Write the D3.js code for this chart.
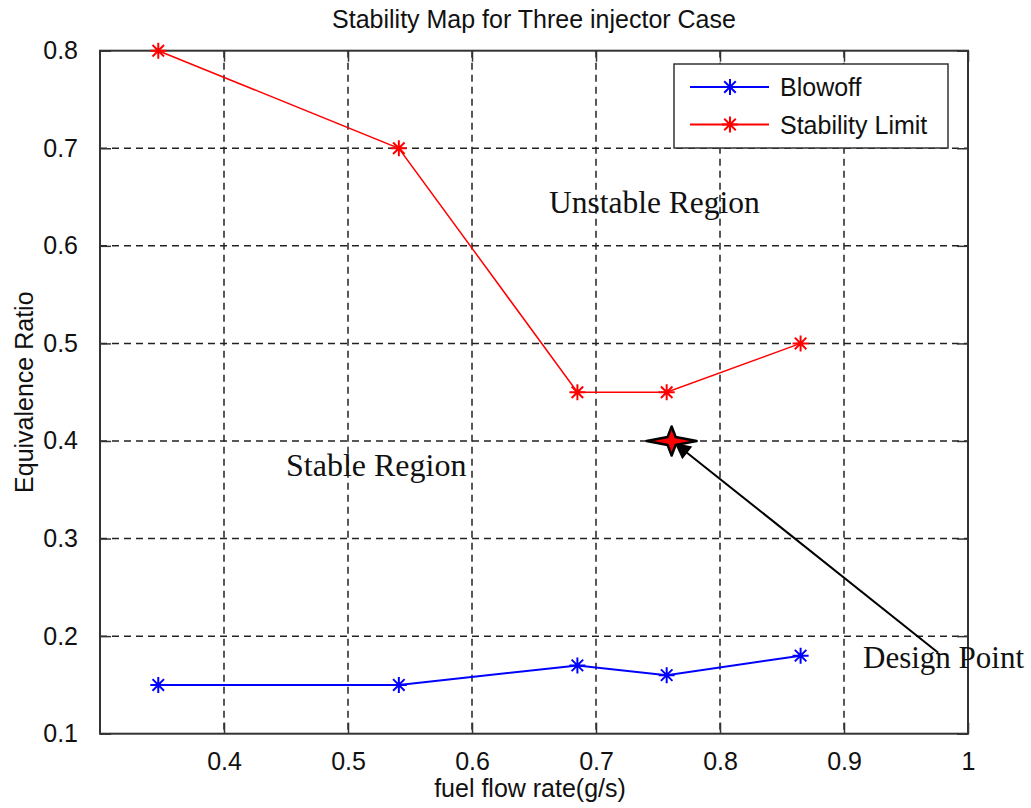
<!DOCTYPE html>
<html>
<head>
<meta charset="utf-8">
<script src="https://cdn.jsdelivr.net/npm/d3@7"></script>
<style>
  body { margin: 0; background: white; }
  svg text { font-family: "Liberation Sans", Arial, sans-serif; fill: #111; }
  .serif { font-family: "Liberation Serif", "Times New Roman", serif !important; }
</style>
</head>
<body>
<div id="chart"></div>
<script>
// fuel flow rate (g/s) for each test point
const flowRate = [0.347, 0.541, 0.685, 0.757, 0.865];
// equivalence ratio at blowoff
const blowoff = [0.15, 0.15, 0.17, 0.16, 0.18];
// equivalence ratio at stability limit
const stabilityLimit = [0.8, 0.7, 0.45, 0.45, 0.5];

const xTicks = [0.4, 0.5, 0.6, 0.7, 0.8, 0.9, 1];
const yTicks = [0.1, 0.2, 0.3, 0.4, 0.5, 0.6, 0.7, 0.8];

const designPoint = { x: 0.761, y: 0.4 };
const arrowFrom = { x: 0.976, y: 0.183 };
const arrowTo = { x: 0.7645, y: 0.397 };

const seriesList = [
    { name: 'Blowoff', values: blowoff, color: '#0000ff', width: 2 },
    { name: 'Stability Limit', values: stabilityLimit, color: '#ff0000', width: 1.5 }
];

const W = 1031, H = 808;
const margin = { top: 50.7, right: 63, bottom: 74.3, left: 100 };
const width = W - margin.left - margin.right;
const height = H - margin.top - margin.bottom;

const svg = d3.select('#chart')
    .append('svg')
    .attr('width', W)
    .attr('height', H);

const g = svg.append('g')
    .attr('transform', `translate(${margin.left},${margin.top})`);

const x = d3.scaleLinear().domain([0.3, 1]).range([0, width]);
const y = d3.scaleLinear().domain([0.1, 0.8]).range([height, 0]);

// grid
g.selectAll('.vgrid')
    .data(xTicks.filter(t => t < 1))
    .enter().append('line')
    .attr('x1', d => x(d)).attr('x2', d => x(d))
    .attr('y1', 0).attr('y2', height)
    .attr('stroke', '#222').attr('stroke-width', 1.5)
    .attr('stroke-dasharray', '7,5');

g.selectAll('.hgrid')
    .data(yTicks.filter(t => t > 0.1 && t < 0.8))
    .enter().append('line')
    .attr('y1', d => y(d)).attr('y2', d => y(d))
    .attr('x1', 0).attr('x2', width)
    .attr('stroke', '#222').attr('stroke-width', 1.5)
    .attr('stroke-dasharray', '7,5');

// axes (box with inward ticks)
const tickLen = 11;
const axisStyle = sel => {
    sel.select('.domain').remove();
    sel.selectAll('.tick line').attr('stroke', '#333').attr('stroke-width', 1.5);
    sel.selectAll('.tick text').style('font-size', '25px').attr('fill', '#111');
};

g.append('g')
    .attr('transform', `translate(0,${height})`)
    .call(d3.axisBottom(x).tickValues(xTicks).tickFormat(d3.format('')).tickSizeInner(-tickLen).tickPadding(19))
    .call(axisStyle);

g.append('g')
    .call(d3.axisTop(x).tickValues(xTicks).tickFormat('').tickSizeInner(-tickLen))
    .call(axisStyle);

g.append('g')
    .call(d3.axisLeft(y).tickValues(yTicks).tickFormat(d3.format('.1f')).tickSizeInner(-tickLen).tickPadding(22))
    .call(axisStyle);

g.append('g')
    .attr('transform', `translate(${width},0)`)
    .call(d3.axisRight(y).tickValues(yTicks).tickFormat('').tickSizeInner(-tickLen))
    .call(axisStyle);

g.append('rect')
    .attr('x', 0).attr('y', 0)
    .attr('width', width).attr('height', height)
    .attr('fill', 'none')
    .attr('stroke', '#333').attr('stroke-width', 2);

// asterisk marker path
const asterisk = r => {
    const d = r * 0.72;
    return `M${-r},0L${r},0M0,${-r}L0,${r}M${-d},${-d}L${d},${d}M${-d},${d}L${d},${-d}`;
};

const line = d3.line()
    .x(d => x(d[0]))
    .y(d => y(d[1]));

seriesList.forEach(s => {
    const pts = flowRate.map((f, i) => [f, s.values[i]]);
    g.append('path')
        .datum(pts)
        .attr('d', line)
        .attr('fill', 'none')
        .attr('stroke', s.color)
        .attr('stroke-width', s.width);
    g.selectAll(null)
        .data(pts)
        .enter().append('path')
        .attr('transform', d => `translate(${x(d[0])},${y(d[1])})`)
        .attr('d', asterisk(8))
        .attr('stroke', s.color)
        .attr('stroke-width', 2)
        .attr('fill', 'none');
});

// annotations
g.append('text')
    .attr('class', 'serif')
    .attr('x', 449).attr('y', 162)
    .style('font-size', '31.5px')
    .text('Unstable Region');

g.append('text')
    .attr('class', 'serif')
    .attr('x', 186).attr('y', 425)
    .style('font-size', '32px')
    .text('Stable Region');

svg.append('text')
    .attr('class', 'serif')
    .attr('x', 863).attr('y', 668)
    .style('font-size', '31px')
    .text('Design Point');

// arrow to the design point
svg.append('defs').append('marker')
    .attr('id', 'arrowhead')
    .attr('viewBox', '0 0 10 10')
    .attr('refX', 9).attr('refY', 5)
    .attr('markerWidth', 22).attr('markerHeight', 16)
    .attr('markerUnits', 'userSpaceOnUse')
    .attr('orient', 'auto')
    .append('path')
    .attr('d', 'M0,0L10,5L0,10Z')
    .attr('fill', '#000');

g.append('line')
    .attr('x1', x(arrowFrom.x)).attr('y1', y(arrowFrom.y))
    .attr('x2', x(arrowTo.x)).attr('y2', y(arrowTo.y))
    .attr('stroke', '#000').attr('stroke-width', 2)
    .attr('marker-end', 'url(#arrowhead)');

// design point star
const rx = 25, ry = 14.5, c = 4;
const starPts = [[rx, 0], [c, c], [0, ry], [-c, c], [-rx, 0], [-c, -c], [0, -ry], [c, -c]];
g.append('path')
    .attr('transform', `translate(${x(designPoint.x)},${y(designPoint.y)})`)
    .attr('d', d3.line().curve(d3.curveLinearClosed)(starPts))
    .attr('fill', '#ff0000')
    .attr('stroke', '#000')
    .attr('stroke-width', 2.5)
    .attr('stroke-linejoin', 'round');

// legend
const legend = svg.append('g').attr('transform', 'translate(674,64)');
legend.append('rect')
    .attr('width', 274).attr('height', 84)
    .attr('fill', 'white')
    .attr('stroke', '#333').attr('stroke-width', 1.5);

seriesList.forEach((s, i) => {
    const ly = 23 + i * 37.5;
    legend.append('line')
        .attr('x1', 16).attr('x2', 95)
        .attr('y1', ly).attr('y2', ly)
        .attr('stroke', s.color).attr('stroke-width', 2);
    legend.append('path')
        .attr('transform', `translate(56,${ly})`)
        .attr('d', asterisk(8))
        .attr('stroke', s.color).attr('stroke-width', 2);
    legend.append('text')
        .attr('x', 106).attr('y', ly + 9)
        .style('font-size', '25px')
        .text(s.name);
});

// titles
svg.append('text')
    .attr('x', margin.left + width / 2).attr('y', 28)
    .attr('text-anchor', 'middle')
    .style('font-size', '25px')
    .text('Stability Map for Three injector Case');

svg.append('text')
    .attr('x', margin.left + width / 2 - 4).attr('y', 797)
    .attr('text-anchor', 'middle')
    .style('font-size', '25px')
    .text('fuel flow rate(g/s)');

svg.append('text')
    .attr('transform', `translate(33,${margin.top + height / 2}) rotate(-90)`)
    .attr('text-anchor', 'middle')
    .style('font-size', '25px')
    .text('Equivalence Ratio');
</script>
</body>
</html>
